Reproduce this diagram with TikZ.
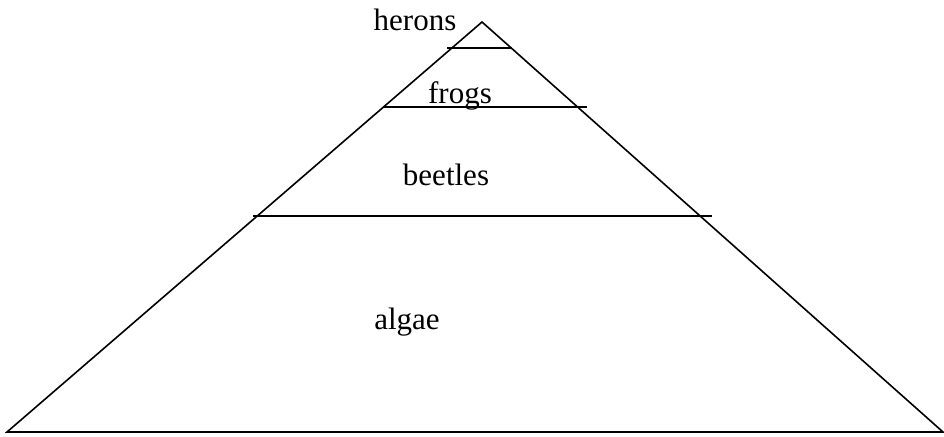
\documentclass[tikz,border=0pt]{standalone}
\usepackage{fontspec}
\setmainfont{Liberation Serif}
\usepackage{tikz}
\tikzset{
  lvl/.style={font=\fontsize{31}{37}\selectfont, anchor=base, inner sep=0pt},
  edge/.style={draw, line width=1.6pt},
}

\begin{document}
\begin{tikzpicture}[x=1pt, y=-1pt]
  \useasboundingbox (0,0) rectangle (944,436);
  % pyramid outline
  \coordinate (top) at (482,22);
  \coordinate (bl) at (7,432);
  \coordinate (br) at (943,432);
  \draw[edge] (bl) -- (top) -- (br) -- cycle;
  % level dividers
  \foreach \n/\y/\a/\b in {h/48/447/512, f/107/384/587, b/216/253/712} {
    \coordinate (\n l) at (\a,\y);
    \coordinate (\n r) at (\b,\y);
    \draw[edge] (\n l) -- (\n r);
  }
  % labels
  \node[lvl] (herons) at (415,31) {herons};
  \node[lvl] (frogs) at (460,103) {frogs};
  \node[lvl] (beetles) at (446,185) {beetles};
  \node[lvl] (algae) at (407,329) {algae};
\end{tikzpicture}
\end{document}
